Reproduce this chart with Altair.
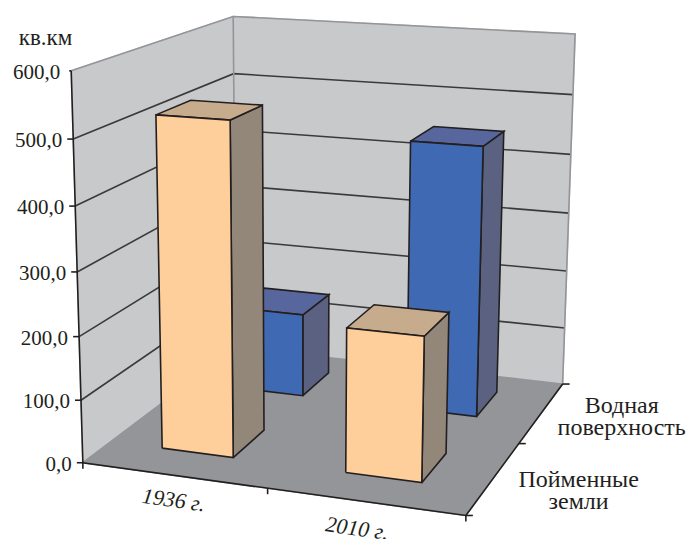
import altair as alt
import numpy as np
import pandas as pd

W, H = 688, 539

# Chart content
categories = ["1936 г.", "2010 г."]
series = ["Пойменные\nземли", "Водная\nповерхность"]
floodplain = [524.0, 226.0]
water = [141.0, 447.0]
z_ticks = [0, 100, 200, 300, 400, 500, 600]
z_labels = ["0,0", "100,0", "200,0", "300,0", "400,0", "500,0", "600,0"]
unit_label = "кв.км"

# Colours
WALL, FLOOR = "#c8c9cb", "#939598"
FRAME, INK = "#949598", "#231f20"
PALETTE = {
    0: ("#fecf9b", "#93877a", "#c7ab8d"),
    1: ("#3f69b2", "#5b6180", "#57679e"),
}

# Camera calibration: world point (category, series, height share) and where it lands.
CALIBRATION = [
    ((0, 0, 0), (84, 462)), ((2, 0, 0), (465, 516)), ((2, 2, 0), (563, 383)),
    ((0, 2, 0), (234, 348)), ((0, 0, 1), (70, 71)), ((0, 2, 1), (234, 16)),
    ((2, 2, 1), (575, 33)), ((1, 0, 0), (268, 488)), ((2, 1, 0), (520, 444)),
    ((0, 0, 0.5), (77, 272)), ((0, 2, 5 / 6), (235, 74)), ((2, 2, 5 / 6), (572, 96)),
]


def fit_camera(pairs):
    rows = []
    for (a, b, c), (px, py) in pairs:
        rows.append([a, b, c, 1, 0, 0, 0, 0, -px * a, -px * b, -px * c, -px])
        rows.append([0, 0, 0, 0, a, b, c, 1, -py * a, -py * b, -py * c, -py])
    return np.linalg.svd(np.array(rows, float))[2][-1].reshape(3, 4)


CAMERA = fit_camera(CALIBRATION)


def project(u, v, value):
    p = CAMERA @ np.array([u, v, value / 600.0, 1.0])
    return p[0] / p[2], p[1] / p[2]


# Polygons and polylines share one table, drawn in painter's order.
rows = []


def add_path(points, fill=None, stroke=None):
    pid = len({r["pid"] for r in rows})
    for i, (x, y) in enumerate(points):
        rows.append({"pid": pid, "i": i, "x": x, "y": y,
                     "fill": fill or "transparent", "stroke": stroke or "transparent"})


def add_poly(corners, fill, stroke=None):
    pts = [project(*c) for c in corners]
    add_path(pts + pts[:1], fill, stroke)


# Walls and floor
add_poly([(0, 0, 0), (0, 2, 0), (0, 2, 600), (0, 0, 600)], WALL, WALL)
add_poly([(0, 2, 0), (2, 2, 0), (2, 2, 600), (0, 2, 600)], WALL, WALL)
add_poly([(0, 0, 0), (2, 0, 0), (2, 2, 0), (0, 2, 0)], FLOOR, FLOOR)

for z in z_ticks[1:-1]:
    add_path([project(0, 0, z), project(0, 2, z), project(2, 2, z)], stroke="#3a3a3c")
add_path([project(0, 0, 600), project(0, 2, 600), project(2, 2, 600), project(2, 2, 0)], stroke=FRAME)
add_path([project(0, 2, 0), project(0, 2, 600)], stroke=FRAME)
add_path([project(0, 0, 600), project(0, 0, 0), project(2, 0, 0), project(2, 2, 0)], stroke=INK)

# Tick marks on the three axes
for z in z_ticks:
    x, y = project(0, 0, z)
    add_path([(x - (2 if z == 600 else 6), y), (x, y)], stroke=INK)
for u in (0, 1, 2):
    x, y = project(u, 0, 0)
    add_path([(x, y), (x, y + 6)], stroke=INK)
for v in (0, 1, 2):
    x, y = project(2, v, 0)
    add_path([(x, y), (x + 7, y)], stroke=INK)


# Bars, far row first
def add_bar(cat, ser, value):
    u0, u1 = cat + 0.29, cat + 0.685
    v0, v1 = ser + 0.32, ser + 0.74
    front, side, top = PALETTE[ser]
    add_poly([(u1, v0, 0), (u1, v1, 0), (u1, v1, value), (u1, v0, value)], side, INK)
    add_poly([(u0, v0, value), (u1, v0, value), (u1, v1, value), (u0, v1, value)], top, INK)
    add_poly([(u0, v0, 0), (u1, v0, 0), (u1, v0, value), (u0, v0, value)], front, INK)


for c, val in enumerate(water):
    add_bar(c, 1, val)
for c, val in enumerate(floodplain):
    add_bar(c, 0, val)

paths = pd.DataFrame(rows)

x_enc = alt.X("x:Q", scale=alt.Scale(domain=[0, W], range=[0, W], nice=False, zero=False), axis=None)
y_enc = alt.Y("y:Q", scale=alt.Scale(domain=[0, H], range=[0, H], nice=False, zero=False), axis=None)

shapes = alt.Chart(paths).mark_line(strokeWidth=1.6, strokeJoin="miter", interpolate="linear").encode(
    x=x_enc, y=y_enc,
    detail="pid:N",
    order="i:Q",
    fill=alt.Fill("fill:N", scale=None),
    stroke=alt.Stroke("stroke:N", scale=None),
)

serif = dict(font="Liberation Serif", color=INK)

# Value labels beside the vertical axis
tick_df = pd.DataFrame(
    [{"x": project(0, 0, z)[0] - 11, "y": project(0, 0, z)[1] + 2, "t": t} for z, t in zip(z_ticks, z_labels)]
)
tick_text = alt.Chart(tick_df).mark_text(align="right", baseline="middle", fontSize=21, **serif).encode(
    x=x_enc, y=y_enc, text="t:N")

unit_df = pd.DataFrame([{"x": 45.5, "y": 38, "t": unit_label}])
unit_text = alt.Chart(unit_df).mark_text(align="center", baseline="middle", fontSize=23, **serif).encode(
    x=x_enc, y=y_enc, text="t:N")

# Category labels run along the front edge
cat_df = pd.DataFrame(
    [{"x": project(c + 0.5, 0, 0)[0] + dx, "y": project(c + 0.5, 0, 0)[1] + dy, "t": t}
     for c, t, dx, dy in zip((0, 1), categories, (0, -8), (25, 27))]
)
cat_text = alt.Chart(cat_df).mark_text(align="center", baseline="middle", fontSize=22, fontStyle="italic",
                                       angle=8, **serif).encode(x=x_enc, y=y_enc, text="t:N")

# Series labels to the right of the depth axis
ser_df = pd.DataFrame(
    [{"x": project(2, v + 0.5, 0)[0] + dx, "y": project(2, v + 0.5, 0)[1] + dy, "t": t}
     for v, t, dx, dy in zip((0, 1), series, (85, 80), (2, -6))]
)
ser_text = alt.Chart(ser_df).mark_text(align="center", baseline="middle", fontSize=24, lineBreak="\n",
                                       lineHeight=22, **serif).encode(x=x_enc, y=y_enc, text="t:N")

chart = alt.layer(shapes, tick_text, unit_text, cat_text, ser_text).properties(
    width=W, height=H, padding=0, autosize=alt.AutoSizeParams(type="none"),
    background="white",
).configure_view(stroke=None)

chart.save("out.html", embed_options={"renderer": "svg", "actions": False})
